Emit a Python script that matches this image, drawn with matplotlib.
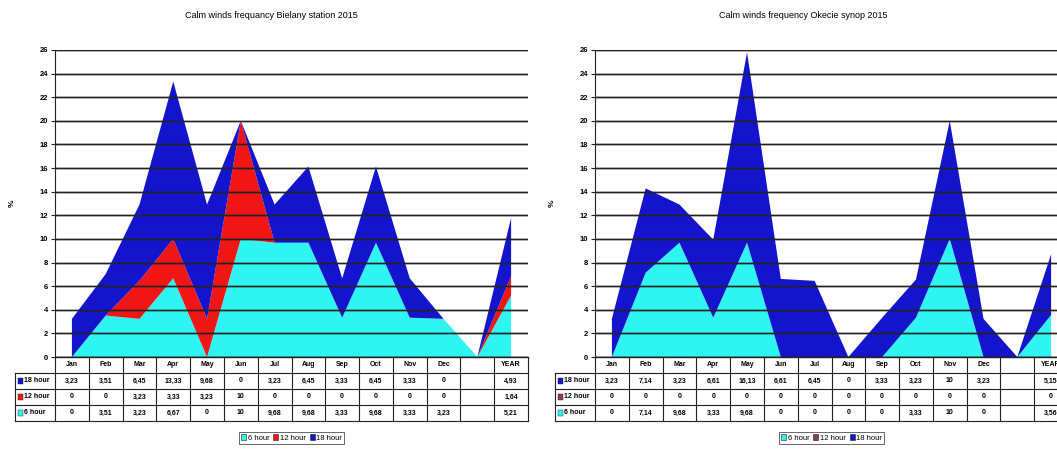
import matplotlib
matplotlib.use("Agg")
import matplotlib.pyplot as plt
from matplotlib.patches import Patch, Rectangle
import numpy as np

plt.rcParams['font.family'] = ['Liberation Sans Narrow', 'Liberation Sans', 'DejaVu Sans']

categories = ["Jan", "Feb", "Mar", "Apr", "May", "Jun", "Jul", "Aug", "Sep",
              "Oct", "Nov", "Dec", "", "YEAR"]
series_names = ["6 hour", "12 hour", "18 hour"]

# Bielany station 2015 (None = empty column)
bielany_18h = [3.23, 3.51, 6.45, 13.33, 9.68, 0, 3.23, 6.45, 3.33, 6.45, 3.33, 0, None, 4.93]
bielany_12h = [0, 0, 3.23, 3.33, 3.23, 10, 0, 0, 0, 0, 0, 0, None, 1.64]
bielany_6h = [0, 3.51, 3.23, 6.67, 0, 10, 9.68, 9.68, 3.33, 9.68, 3.33, 3.23, None, 5.21]

# Okecie synop 2015
okecie_18h = [3.23, 7.14, 3.23, 6.61, 16.13, 6.61, 6.45, 0, 3.33, 3.23, 10, 3.23, None, 5.15]
okecie_12h = [0, 0, 0, 0, 0, 0, 0, 0, 0, 0, 0, 0, None, 0]
okecie_6h = [0, 7.14, 9.68, 3.33, 9.68, 0, 0, 0, 0, 3.33, 10, 0, None, 3.56]

title_left = "Calm winds frequancy Bielany station 2015"
title_right = "Calm winds frequency Okecie synop 2015"

C6 = "#2EF4F2"
C18 = "#1414CC"
C12_left = "#F01616"
C12_right = "#8E3A5E"

W, H = 1057, 449
fig = plt.figure(figsize=(W / 100, H / 100), dpi=100)


def fx(px):
    return px / W


def fy(py):
    return 1 - py / H


def fmt(v):
    if v is None:
        return ""
    s = f"{v:g}"
    return s.replace(".", ",")


def panel(x0, x1, title, s6, s12, s18, c12, title_cx):
    top, bottom = 50, 357
    ax = fig.add_axes([fx(x0), fy(bottom), fx(x1 - x0), (bottom - top) / H])
    n = len(categories)
    x = np.arange(n)
    v6 = np.array([0 if v is None else v for v in s6], float)
    v12 = np.array([0 if v is None else v for v in s12], float)
    v18 = np.array([0 if v is None else v for v in s18], float)
    ax.stackplot(x, v6, v12, v18, colors=[C6, c12, C18], linewidth=0)
    ax.set_xlim(-0.5, n - 0.5)
    ax.set_ylim(0, 26)
    ax.set_yticks(np.arange(0, 27, 2))
    ax.set_xticks([])
    ax.grid(axis='y', color='#222222', linewidth=1.0)
    ax.set_axisbelow(False)
    for sp in ["top", "right", "bottom"]:
        ax.spines[sp].set_visible(False)
    ax.spines["left"].set_color("#222222")
    ax.spines["left"].set_linewidth(0.8)
    ax.tick_params(axis='y', length=3, width=0.8, labelsize=5.5, pad=2, color="#222222")
    for lab in ax.get_yticklabels():
        lab.set_fontweight("bold")
    # put gridlines over the areas like the source chart
    for yv in np.arange(0, 27, 2):
        ax.axhline(yv, color='#222222', linewidth=1.0, zorder=3)

    fig.text(fx(title_cx), fy(15), title, ha='center', va='center', fontsize=6.5,
             family=['Liberation Sans', 'DejaVu Sans'])
    fig.text(fx(x0 - 43), fy(203), "%", ha='center', va='center', fontsize=6,
             rotation=90, fontweight='bold')

    # data table under the plot
    lab_px = 40
    colw = (x1 - x0) / n
    lab_w = lab_px / colw
    tb_top, tb_bot = 357, 421
    tx = fig.add_axes([fx(x0 - lab_px), fy(tb_bot), fx(x1 - x0 + lab_px),
                       (tb_bot - tb_top) / H])
    tx.set_xlim(-0.5 - lab_w, n - 0.5)
    tx.set_ylim(4, 0)
    tx.axis('off')
    lc = "#222222"
    tx.plot([-0.5, n - 0.5], [0, 0], color=lc, lw=1.0, clip_on=False)
    for r in range(1, 5):
        tx.plot([-0.5 - lab_w, n - 0.5], [r, r], color=lc, lw=0.8, clip_on=False)
    tx.plot([-0.5 - lab_w] * 2, [1, 4], color=lc, lw=0.8, clip_on=False)
    for k in range(n + 1):
        tx.plot([-0.5 + k] * 2, [0, 4], color=lc, lw=0.8, clip_on=False)
    for i, c in enumerate(categories):
        tx.text(i, 0.5, c, ha='center', va='center', fontsize=5, fontweight='bold')
    rows = [("18 hour", C18, s18), ("12 hour", c12, s12), ("6 hour", C6, s6)]
    for r, (name, col, vals) in enumerate(rows, start=1):
        sq = Rectangle((-0.5 - lab_w + 0.1, r + 0.3), 0.14, 0.4, facecolor=col,
                       edgecolor='#222222', lw=0.3, clip_on=False)
        tx.add_patch(sq)
        tx.text(-0.5 - lab_w + 0.27, r + 0.5, name, ha='left', va='center',
                fontsize=5, fontweight='bold')
        for i, v in enumerate(vals):
            tx.text(i, r + 0.5, fmt(v), ha='center', va='center', fontsize=5,
                    fontweight='bold')

    handles = [Patch(facecolor=C6, edgecolor='#222222', lw=0.4),
               Patch(facecolor=c12, edgecolor='#222222', lw=0.4),
               Patch(facecolor=C18, edgecolor='#222222', lw=0.4)]
    leg = fig.legend(handles, series_names, loc='center',
                     bbox_to_anchor=(fx((x0 + x1) / 2), fy(438)), ncol=3,
                     fontsize=5.5, frameon=True, fancybox=False,
                     handlelength=0.7, handleheight=0.9, handletextpad=0.2,
                     columnspacing=0.5, borderpad=0.25, borderaxespad=0)
    leg.get_frame().set_edgecolor('#222222')
    leg.get_frame().set_linewidth(0.6)


panel(55, 528, title_left, bielany_6h, bielany_12h, bielany_18h, C12_left, 271)
panel(595, 1068, title_right, okecie_6h, okecie_12h, okecie_18h, C12_right, 803)

fig.savefig("out.png", dpi=100)
